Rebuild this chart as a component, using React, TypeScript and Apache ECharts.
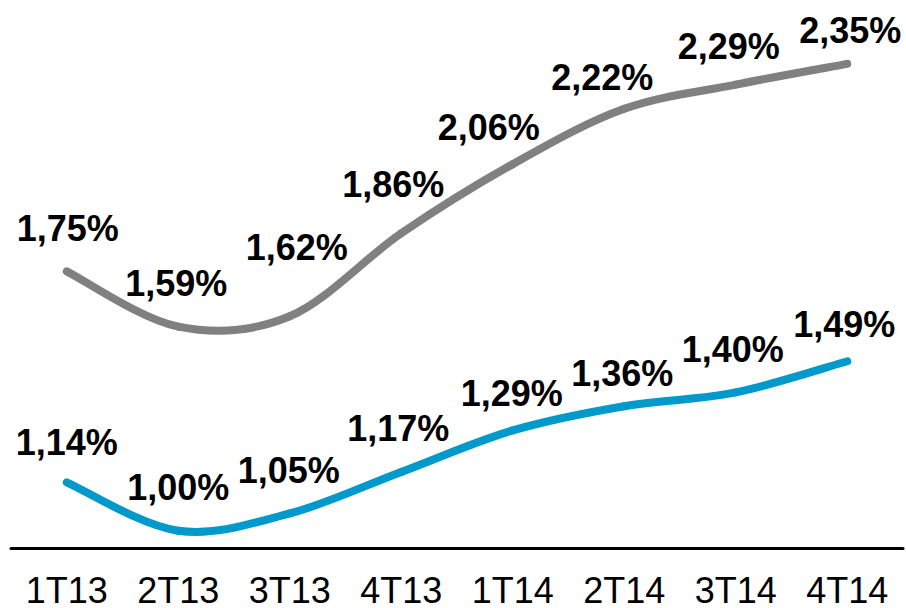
import React, { useEffect, useRef } from "react";
import * as echarts from "echarts";

const categories = ["1T13", "2T13", "3T13", "4T13", "1T14", "2T14", "3T14", "4T14"];
const grayValues = [1.75, 1.59, 1.62, 1.86, 2.06, 2.22, 2.29, 2.35];
const blueValues = [1.14, 1.0, 1.05, 1.17, 1.29, 1.36, 1.4, 1.49];

// small manual nudges of the value labels, as in the original
const grayLabelNudge = [[1, 0], [-2, 0], [7, -26], [-8, -6], [-24, 6], [-22, 12], [-7, 5], [3, 10]];
const blueLabelNudge = [[0, 3], [0, 0], [-1, 0], [-3, 0], [-1, 6], [-2, 10], [-3, 0], [-3, 6]];

const GRAY = "#808080";
const BLUE = "#0099cc";
const FONT = "Arial, 'Liberation Sans', sans-serif";

const fmt = (p: any) => Number(p.value).toFixed(2).replace(".", ",") + "%";

// Catmull-Rom style smoothed segment (like the spreadsheet's smoothed line)
const smoothRender = (vals: number[], color: string) => (params: any, api: any) => {
  const i = params.dataIndex;
  const n = vals.length;
  if (i >= n - 1) return { type: "group", children: [] };
  const pt = (k: number) => {
    const kk = Math.max(0, Math.min(n - 1, k));
    return api.coord([kk, vals[kk]]);
  };
  const p0 = pt(i - 1);
  const p1 = pt(i);
  const p2 = pt(i + 1);
  const p3 = pt(i + 2);
  return {
    type: "bezierCurve",
    shape: {
      x1: p1[0],
      y1: p1[1],
      x2: p2[0],
      y2: p2[1],
      cpx1: p1[0] + (p2[0] - p0[0]) / 6,
      cpy1: p1[1] + (p2[1] - p0[1]) / 6,
      cpx2: p2[0] - (p3[0] - p1[0]) / 6,
      cpy2: p2[1] - (p3[1] - p1[1]) / 6,
    },
    style: { stroke: color, lineWidth: 8, fill: null, lineCap: "round" },
  };
};

export default function App() {
  const ref = useRef<HTMLDivElement>(null);
  useEffect(() => {
    if (!ref.current) return;
    const chart = echarts.init(ref.current, null, { renderer: "svg" });
    const labelBase = {
      show: true,
      position: "top",
      distance: 25,
      fontSize: 36,
      lineHeight: 36,
      fontWeight: "bold",
      fontFamily: FONT,
      color: "#000",
      formatter: fmt,
    };
    const layout = (nudge: number[][]) => (p: any) => {
      const nn = nudge[p.dataIndex] || [0, 0];
      return { dx: nn[0], dy: nn[1], hideOverlap: false };
    };
    const curve = (vals: number[], color: string) => ({
      type: "custom",
      coordinateSystem: "cartesian2d",
      data: vals.map((v, i) => [i, v]),
      encode: { x: 0, y: 1 },
      renderItem: smoothRender(vals, color),
      silent: true,
      z: 2,
    });
    const labels = (vals: number[], nudge: number[][], color: string) => ({
      type: "line",
      data: vals,
      symbol: "circle",
      symbolSize: 0,
      showSymbol: true,
      itemStyle: { color },
      lineStyle: { opacity: 0, width: 0 },
      label: labelBase,
      labelLayout: layout(nudge),
      z: 3,
    });
    chart.setOption({
      animation: false,
      grid: { left: 11, right: 3, top: 12, bottom: 56 },
      xAxis: {
        type: "category",
        data: categories,
        boundaryGap: true,
        axisTick: { show: false },
        axisLine: { lineStyle: { color: "#000", width: 3 } },
        axisLabel: {
          fontSize: 36,
          lineHeight: 28,
          color: "#000",
          fontFamily: FONT,
          margin: 28,
          interval: 0,
        },
      },
      yAxis: {
        type: "value",
        min: 0.95,
        max: 2.5,
        show: false,
        splitLine: { show: false },
      },
      series: [
        curve(grayValues, GRAY),
        curve(blueValues, BLUE),
        labels(grayValues, grayLabelNudge, GRAY),
        labels(blueValues, blueLabelNudge, BLUE),
      ],
    });
    return () => chart.dispose();
  }, []);
  return (
    <div
      ref={ref}
      style={{ position: "fixed", left: 0, top: 0, width: 906, height: 608, background: "#fff" }}
    />
  );
}
